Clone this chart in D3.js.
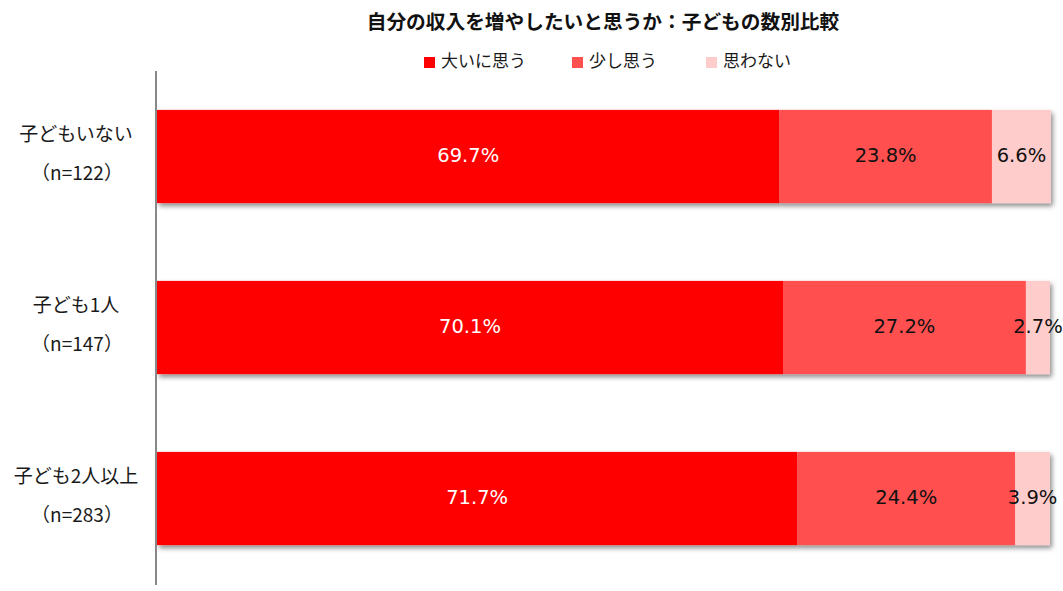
<!DOCTYPE html>
<meta charset="utf-8">
<style>
body { margin: 0; background: #fff; }
text { font-family: "Noto Sans CJK JP", "Noto Sans", sans-serif; }
.cat text { font-size: 19px; fill: #1a1a1a; }
.val { font-size: 19.5px; font-family: "DejaVu Sans", sans-serif; }
.legend text { font-size: 17px; fill: #1a1a1a; }
</style>
<svg width="1063" height="591"></svg>
<script src="https://d3js.org/d3.v7.min.js"></script>
<script>

var categories = ["子どもいない", "子ども1人", "子ども2人以上"];
var sampleSizes = ["（n=122）", "（n=147）", "（n=283）"];
var seriesNames = ["大いに思う", "少し思う", "思わない"];
var muchValues = [69.7, 70.1, 71.7];
var littleValues = [23.8, 27.2, 24.4];
var notValues = [6.6, 2.7, 3.9];
var colors = ["#ff0000", "#ff5050", "#ffcccc"];
var textColors = ["#fff", "#111", "#111"];

var svg = d3.select("svg"),
    margin = {top: 71, left: 157, right: 12, bottom: 7},
    width = +svg.attr("width") - margin.left - margin.right,
    height = +svg.attr("height") - margin.top - margin.bottom;

var rows = categories.map(function(c, i) {
  return {cat: c, n: sampleSizes[i], v: [muchValues[i], littleValues[i], notValues[i]]};
});

var x = d3.scaleLinear().domain([0, 100]).range([0, 893]);
var y = d3.scaleBand().domain(categories).range([0, height]).paddingInner(0.455).paddingOuter(0.2275);

var defs = svg.append("defs");
var f = defs.append("filter").attr("id", "shadow").attr("x", "-5%").attr("y", "-20%").attr("width", "110%").attr("height", "150%");
f.append("feDropShadow").attr("dx", 2).attr("dy", 3).attr("stdDeviation", 2.5)
  .attr("flood-color", "#000").attr("flood-opacity", 0.45);

// title
svg.append("text")
  .attr("x", 603).attr("y", 29)
  .attr("text-anchor", "middle")
  .style("font-size", "19.7px").style("font-weight", "bold").style("fill", "#111")
  .text("自分の収入を増やしたいと思うか：子どもの数別比較");

// legend
var legendX = [424, 572, 706];
var legend = svg.append("g").attr("class", "legend");
seriesNames.forEach(function(s, i) {
  legend.append("rect").attr("x", legendX[i]).attr("y", 57).attr("width", 11).attr("height", 11).attr("fill", colors[i]);
  legend.append("text").attr("x", legendX[i] + 17).attr("y", 67).text(s);
});

var g = svg.append("g").attr("transform", "translate(" + margin.left + "," + margin.top + ")");

var bars = g.selectAll(".bar").data(rows).enter().append("g")
  .attr("class", "bar")
  .attr("transform", function(d) { return "translate(0," + y(d.cat) + ")"; });

bars.append("g").attr("filter", "url(#shadow)").each(function(d) {
  var start = 0, sel = d3.select(this);
  d.v.forEach(function(v, i) {
    sel.append("rect")
      .attr("x", x(start)).attr("y", 0)
      .attr("width", x(start + v) - x(start)).attr("height", y.bandwidth())
      .attr("fill", colors[i]);
    start += v;
  });
});

bars.each(function(d) {
  var start = 0, sel = d3.select(this);
  d.v.forEach(function(v, i) {
    sel.append("text")
      .attr("class", "val")
      .attr("x", x(start + v / 2)).attr("y", y.bandwidth() / 2 - 1)
      .attr("dy", "0.35em")
      .attr("text-anchor", "middle")
      .style("fill", textColors[i])
      .text(v.toFixed(1) + "%");
    start += v;
  });
});

// category labels
var cat = g.append("g").attr("class", "cat");
rows.forEach(function(d) {
  var cy = y(d.cat) + y.bandwidth() / 2;
  cat.append("text").attr("x", -81).attr("y", cy - 16).attr("text-anchor", "middle").text(d.cat);
  cat.append("text").attr("x", -80).attr("y", cy + 23).attr("text-anchor", "middle").text(d.n);
});

// axis line
g.append("line")
  .attr("x1", -1).attr("x2", -1).attr("y1", 0).attr("y2", height + 1)
  .attr("stroke", "#888").attr("stroke-width", 2);

</script>
